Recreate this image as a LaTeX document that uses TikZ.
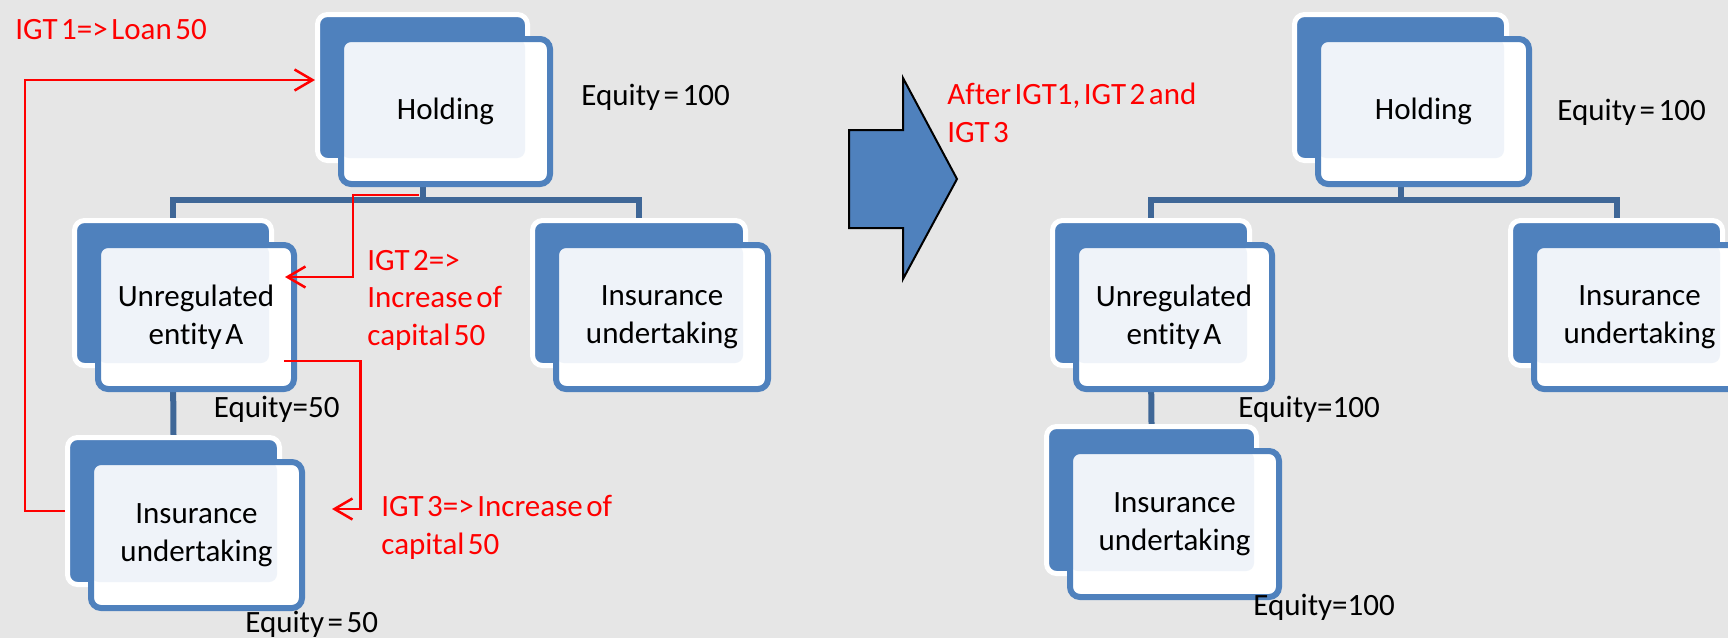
\documentclass[tikz,border=0pt]{standalone}
\usepackage{fontspec}
\setmainfont{Carlito}[WordSpace=0.5, Ligatures=NoCommon]
\usetikzlibrary{arrows.meta,backgrounds}
\definecolor{bgc}{HTML}{E6E6E6}
\definecolor{cardblue}{HTML}{4F81BD}
\definecolor{treeblue}{HTML}{3F6797}
\definecolor{tint}{HTML}{EFF3F9}
\definecolor{igtred}{HTML}{FF0000}
\newcommand\cardfont{\fontsize{15.5pt}{18.75pt}\selectfont}
% #1 name, #2 left, #3 top (of the back card, px), #4 width, #5 height, #6 text
\newcommand\orgcard[6]{%
  \node[backcard, minimum width={(#4-5)*0.5pt}, minimum height={(#5-5)*0.5pt}]
    (#1b) at ({#2+#4/2},{#3+#5/2}) {};
  \node[frontcard, minimum width={(#4-6)*0.5pt}, minimum height={(#5-6)*0.5pt}]
    (#1) at ({#2+23+#4/2},{#3+24+#5/2}) {#6};
}
\begin{document}
\begin{tikzpicture}[x=0.5pt,y=-0.5pt,
  backcard/.style={draw=white, line width=2.5pt, fill=cardblue, rounded corners=5pt, inner sep=0pt},
  frontcard/.style={draw=cardblue, line width=3pt, fill=white, rounded corners=5pt,
    inner sep=0pt, align=center, font=\cardfont,
    path picture={\fill[tint, rounded corners=4pt] (path picture bounding box.north west)
      rectangle ([xshift=-12.5pt,yshift=13pt]path picture bounding box.south east);}},
  tree/.style={draw=treeblue, line width=3pt},
  igt/.style={draw=igtred, line width=1.25pt, -{Straight Barb[length=9pt,width=10.5pt]}},
  lbl/.style={font=\cardfont, inner sep=0pt, anchor=base west, align=left},
  bigarrow/.style={fill=cardblue, draw=black, line width=1pt, line join=miter}]
\useasboundingbox (0,0) rectangle (1728,638);

% group structure before the transactions
\orgcard{hl}{315}{12}{215}{151}{Holding}
\orgcard{ul}{72}{218}{202}{150}{Unregulated\\entity A}
\orgcard{il}{530}{218}{218}{150}{Insurance\\undertaking}
\orgcard{bl}{65}{435}{217}{152}{Insurance\\undertaking}

% group structure after the transactions
\orgcard{hr}{1292}{12}{217}{151}{Holding}
\orgcard{ur}{1050}{218}{202}{150}{Unregulated\\entity A}
\orgcard{ir}{1508}{218}{217}{150}{Insurance\\undertaking}
\orgcard{br}{1044}{424}{215}{152}{Insurance\\undertaking}

\coordinate (busl) at (422.5,200);
\coordinate (busr) at (1400.5,200);

\begin{pgfonlayer}{background}
  \fill[bgc] (0,0) rectangle (1728,638);
  \draw[tree] (hlb.south) -- (busl);
  \draw[tree] (ulb.north) |- (busl) -| (ilb.north);
  \draw[tree] (ulb.south) -- (blb.north);
  \draw[tree] (hrb.south) -- (busr);
  \draw[tree] (urb.north) |- (busr) -| (irb.north);
  \draw[tree] (urb.south) -- (brb.north);
\end{pgfonlayer}

% intra-group transactions
\coordinate (igt1c) at (25,80);
\coordinate (igt2s) at (419,195);
\coordinate (igt2e) at (285,277);
\coordinate (igt3s) at (284,361);
\coordinate (igt3e) at (332,509);
\draw[igt] (blb.west) -| (igt1c) -- (igt1c -| hlb.west);
\draw[igt] (igt2s) -- ++(-66,0) |- (igt2e);
\draw[igt] (igt3s) -- ++(76.5,0) |- (igt3e);

% block arrow between the two states
\draw[bigarrow] (849,130) -- (903,130) -- (903,78) -- (957,179) -- (903,279)
  -- (903,228) -- (849,228) -- cycle;

% labels (multi-line labels are placed by the baseline of their last line)
\node[lbl, text=igtred] (t1) at (15,39) {IGT 1=> Loan 50};
\node[lbl] (eqhl) at (581,105) {Equity = 100};
\node[lbl, text=igtred] (after) at (947,142) {After IGT1, IGT 2 and\\IGT 3};
\node[lbl] (eqhr) at (1557,120) {Equity = 100};
\node[lbl, text=igtred] (t2) at (367,345) {IGT 2=>\\Increase of\\capital 50};
\node[lbl] (equl) at (213.5,417) {Equity=50};
\node[lbl, text=igtred] (t3) at (381,554) {IGT 3=> Increase of\\capital 50};
\node[lbl] (eqbl) at (245,632) {Equity = 50};
\node[lbl] (equr) at (1238,417) {Equity=100};
\node[lbl] (eqbr) at (1253,615) {Equity=100};
\end{tikzpicture}
\end{document}
